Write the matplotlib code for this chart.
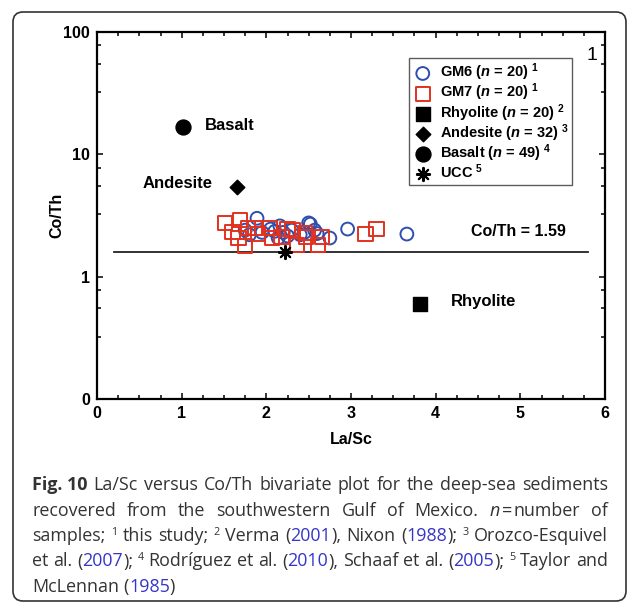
import numpy as np
import matplotlib
matplotlib.use("Agg")
import matplotlib.pyplot as plt
from matplotlib.ticker import FixedLocator, MultipleLocator, NullFormatter
from matplotlib.transforms import IdentityTransform
from matplotlib.patches import FancyBboxPatch

plt.rcParams.update(
    {
        "font.family": "Liberation Sans",
        "font.weight": "bold",
        "axes.labelweight": "bold",
        "mathtext.fontset": "custom",
        "mathtext.rm": "Liberation Sans:bold",
        "mathtext.bf": "Liberation Sans:bold",
        "mathtext.it": "Liberation Sans:italic",
        "mathtext.bfit": "Liberation Sans:italic:bold",
    }
)

# %% data
gm6_lasc = [1.89, 2.16, 2.14, 2.52, 2.50, 2.57, 2.75, 2.96, 3.66, 1.75,
            1.95, 2.05, 2.20, 2.30, 2.40, 1.80, 2.10, 2.45, 2.60, 2.25]
gm6_coth = [3.00, 2.60, 2.07, 2.69, 2.75, 2.40, 2.07, 2.45, 2.23, 2.40,
            2.30, 2.45, 2.30, 2.40, 2.20, 2.20, 2.35, 2.30, 2.25, 2.15]

gm7_lasc = [1.51, 1.69, 1.78, 1.67, 1.75, 1.90, 2.04, 2.07, 2.18, 2.31,
            2.36, 2.47, 2.61, 2.66, 2.46, 3.17, 3.30, 1.87, 1.60, 2.25]
gm7_coth = [2.74, 2.90, 2.50, 2.07, 1.78, 2.23, 2.50, 2.07, 2.11, 2.40,
            1.81, 2.11, 1.81, 2.11, 2.27, 2.23, 2.45, 2.50, 2.32, 2.45]

rhyolite = (3.81, 0.60)
andesite = (1.65, 5.4)
basalt = (1.02, 16.7)
ucc = (2.22, 1.59)
coth_line = 1.59

yticks = [0.1, 1, 10, 100]
yticklabels = ["0", "1", "10", "100"]
yminor_frac = [3.24, 5.52, 7.78]

# %% figure
W, H = 637, 605
fig = plt.figure(figsize=(W / 100, H / 100), dpi=100)
ax = fig.add_axes([97 / W, 1 - 399 / H, (605 - 97) / W, (399 - 32) / H])

blue = "#2f4fae"
red = "#e2321f"

ax.scatter(gm6_lasc, gm6_coth, s=85, facecolors="none", edgecolors=blue,
           linewidths=1.4, label=r"GM6 ($\mathbfit{n}$ = 20) $^{\mathbf{1}}$", zorder=3)
ax.scatter(gm7_lasc, gm7_coth, s=105, marker="s", facecolors="none", edgecolors=red,
           linewidths=1.4, label=r"GM7 ($\mathbfit{n}$ = 20) $^{\mathbf{1}}$", zorder=4)
ax.scatter(*rhyolite, s=105, marker="s", color="black",
           label=r"Rhyolite ($\mathbfit{n}$ = 20) $^{\mathbf{2}}$", zorder=5)
ax.scatter(*andesite, s=55, marker="D", color="black",
           label=r"Andesite ($\mathbfit{n}$ = 32) $^{\mathbf{3}}$", zorder=5)
ax.scatter(*basalt, s=115, marker="o", color="black",
           label=r"Basalt ($\mathbfit{n}$ = 49) $^{\mathbf{4}}$", zorder=5)
ax.scatter(*ucc, s=90, marker=(8, 2, 0), color="black", linewidths=1.5,
           label=r"UCC $^{\mathbf{5}}$", zorder=6)

ax.plot([0.2, 5.8], [coth_line, coth_line], color="#222222", lw=1.3, zorder=2)

ax.text(4.42, 2.32, "Co/Th = 1.59", fontsize=11.5, va="center", ha="left")
ax.text(1.27, 17.3, "Basalt", fontsize=12, va="center", ha="left")
ax.text(1.36, 5.75, "Andesite", fontsize=12, va="center", ha="right")
ax.text(4.18, 0.63, "Rhyolite", fontsize=12, va="center", ha="left")
ax.text(0.985, 0.935, "1", fontsize=14, fontweight="normal", ha="right", va="center",
        transform=ax.transAxes)

ax.set_yscale("log")
ax.set_xlim(0, 6)
ax.set_ylim(0.1, 100)
ax.set_yticks(yticks)
ax.set_yticklabels(yticklabels)
ax.yaxis.set_minor_locator(FixedLocator([d * f for d in [0.1, 1, 10] for f in yminor_frac]))
ax.yaxis.set_minor_formatter(NullFormatter())
ax.xaxis.set_major_locator(MultipleLocator(1))
ax.xaxis.set_minor_locator(MultipleLocator(0.25))

ax.tick_params(which="both", direction="in", top=True, right=True, width=1.1, labelsize=11.5)
ax.tick_params(which="major", length=4, pad=5)
ax.tick_params(which="minor", length=3)
for sp in ax.spines.values():
    sp.set_linewidth(1.6)

ax.set_xlabel("La/Sc", fontsize=11.5, fontweight="bold", labelpad=8)
ax.set_ylabel("Co/Th", fontsize=11.5, fontweight="bold", labelpad=-1)

leg = ax.legend(loc="upper left", bbox_to_anchor=(0.614, 0.929), borderaxespad=0,
                fontsize=10.5, frameon=True, fancybox=False, edgecolor="#333333",
                handletextpad=0.45, labelspacing=-0.1, borderpad=0.25,
                handlelength=1.4)
leg.get_frame().set_linewidth(1.0)

# %% caption
cap_font = "Open Sans"
cap_size = 12.9
cap_color = "#333333"
link = "#3535c8"
left, right = 32, 608
baselines = [490, 515.5, 541, 566.5, 592]

caption = [
    [[("Fig. 10", "b")], [("La/Sc", "n")], [("versus", "n")], [("Co/Th", "n")], [("bivariate", "n")],
     [("plot", "n")], [("for", "n")], [("the", "n")], [("deep-sea", "n")], [("sediments", "n")]],
    [[("recovered", "n")], [("from", "n")], [("the", "n")], [("southwestern", "n")], [("Gulf", "n")],
     [("of", "n")], [("Mexico.", "n")],
     [("n", "i"), ("2", "g"), ("=", "n"), ("2", "g"), ("number", "n")], [("of", "n")]],
    [[("samples;", "n")], [("1", "s")], [("this", "n")], [("study;", "n")], [("2", "s")],
     [("Verma", "n")], [("(", "n"), ("2001", "l"), ("),", "n")], [("Nixon", "n")],
     [("(", "n"), ("1988", "l"), (");", "n")], [("3", "s")], [("Orozco-Esquivel", "n")]],
    [[("et", "n")], [("al.", "n")], [("(", "n"), ("2007", "l"), (");", "n")], [("4", "s")],
     [("Rodríguez", "n")], [("et", "n")], [("al.", "n")], [("(", "n"), ("2010", "l"), ("),", "n")],
     [("Schaaf", "n")], [("et", "n")], [("al.", "n")], [("(", "n"), ("2005", "l"), (");", "n")],
     [("5", "s")], [("Taylor", "n")], [("and", "n")]],
    [[("McLennan", "n")], [("(", "n"), ("1985", "l"), (")", "n")]],
]

renderer = fig.canvas.get_renderer()


def make_run(txt, style):
    kw = dict(fontfamily=cap_font, fontsize=cap_size, color=cap_color, fontweight="normal",
              va="baseline", ha="left", transform=IdentityTransform())
    if style == "b":
        kw["fontweight"] = "bold"
    if style == "i":
        kw["fontstyle"] = "italic"
    if style == "l":
        kw["color"] = link
    if style == "s":
        kw["fontsize"] = cap_size * 0.6
    t = fig.text(0, 0, txt, **kw)
    return t, t.get_window_extent(renderer).width


space_w = make_run("a a", "n")[1] - 2 * make_run("a", "n")[1]
for art in fig.texts[-3:]:
    art.remove()

for i, line in enumerate(caption):
    words = []
    for word in line:
        runs = []
        for txt, style in word:
            if style == "g":
                runs.append((None, float(txt), style))
            else:
                t, w = make_run(txt, style)
                runs.append((t, w, style))
        words.append(runs)
    widths = [sum(r[1] for r in wd) for wd in words]
    if i < len(caption) - 1:
        gap = (right - left - sum(widths)) / (len(words) - 1)
    else:
        gap = space_w
    x = left
    yb = H - baselines[i]
    for wd, ww in zip(words, widths):
        xx = x
        for t, w, style in wd:
            if t is not None:
                t.set_position((xx, yb + (6 if style == "s" else 0)))
            xx += w
        x += ww + gap

frame = FancyBboxPatch((13, H - 601), 613, 589, boxstyle="round,pad=0,rounding_size=10",
                       transform=IdentityTransform(), facecolor="none",
                       edgecolor="#333333", lw=1.2)
fig.patches.append(frame)

fig.savefig("out.png", dpi=100)
